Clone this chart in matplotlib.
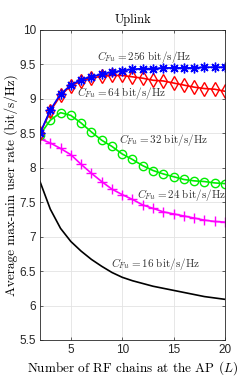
import matplotlib
matplotlib.use("Agg")
import matplotlib.pyplot as plt
import numpy as np

L = list(range(2, 21))
rate_256 = [8.50, 8.84, 9.07, 9.20, 9.28, 9.32, 9.36, 9.39, 9.41, 9.43, 9.44, 9.44, 9.45, 9.45, 9.45, 9.45, 9.46, 9.46, 9.46]
rate_64 = [8.50, 8.82, 9.05, 9.19, 9.26, 9.30, 9.33, 9.34, 9.34, 9.32, 9.30, 9.27, 9.26, 9.23, 9.20, 9.17, 9.15, 9.14, 9.11]
rate_32 = [8.48, 8.69, 8.80, 8.76, 8.65, 8.52, 8.40, 8.31, 8.20, 8.12, 8.03, 7.96, 7.91, 7.87, 7.83, 7.81, 7.80, 7.78, 7.77]
rate_24 = [8.42, 8.36, 8.28, 8.19, 8.05, 7.92, 7.80, 7.69, 7.61, 7.54, 7.46, 7.41, 7.36, 7.33, 7.30, 7.27, 7.24, 7.22, 7.21]
rate_16 = [7.80, 7.40, 7.12, 6.93, 6.79, 6.67, 6.57, 6.48, 6.41, 6.36, 6.32, 6.28, 6.25, 6.22, 6.19, 6.16, 6.13, 6.11, 6.09]

labels = ["256", "64", "32", "24", "16"]

plt.rcParams['mathtext.fontset'] = 'cm'
plt.rcParams['axes.unicode_minus'] = False

fig = plt.figure(figsize=(2.49, 3.82), dpi=100)
ax = fig.add_axes([0.1606, 0.110, 0.743, 0.8115])

lw = 1.2
ax.plot(L, rate_16, color='black', lw=lw)
ax.plot(L, rate_24, color='#FF00FF', lw=lw, marker='+', ms=7, mew=1.0)
ax.plot(L, rate_32, color='#00EE00', lw=lw, marker='o', ms=6, mfc='none', mew=1.0)
ax.plot(L, rate_64, color='#FF0000', lw=lw, marker='d', ms=7, mfc='none', mew=1.0)
ax.plot(L, rate_256, color='#0000FF', lw=lw, marker=(8, 2, 0), ms=7, mew=1.0)

ax.set_xlim(2, 20)
ax.set_ylim(5.5, 10)
ax.set_xticks([5, 10, 15, 20])
ax.set_yticks([5.5, 6, 6.5, 7, 7.5, 8, 8.5, 9, 9.5, 10])
ax.set_yticklabels(['5.5', '6', '6.5', '7', '7.5', '8', '8.5', '9', '9.5', '10'])
ax.grid(True, color='#e3e3e3', lw=0.6)
ax.set_axisbelow(True)
ax.tick_params(direction='in', length=2, width=0.5, top=True, right=True,
               labelsize=8.5, colors='#262626', pad=3)
for lab in ax.get_xticklabels() + ax.get_yticklabels():
    lab.set_fontfamily('Liberation Sans')
for s in ax.spines.values():
    s.set_color('#262626')
    s.set_linewidth(0.6)

ax.set_title('Uplink', fontfamily='cmr10', fontsize=9, pad=5)
ax.set_xlabel(r'Number of RF chains at the AP ($L$)', fontfamily='cmr10', fontsize=9.5, labelpad=2)
ax.set_ylabel(r'Average max-min user rate (bit/s/Hz)', fontfamily='cmr10', fontsize=9.5, labelpad=1)

ann = [(7.55, 9.61, labels[0]), (5.6, 9.09, labels[1]), (9.7, 8.41, labels[2]),
       (11.4, 7.61, labels[3]), (8.9, 6.60, labels[4])]
for x, y, c in ann:
    ax.text(x, y, r'$C_{Fu} = %s\ \mathrm{bit/s/Hz}$' % c, fontsize=8,
            ha='left', va='center', color='#333333')

fig.savefig('out.png', dpi=100)
